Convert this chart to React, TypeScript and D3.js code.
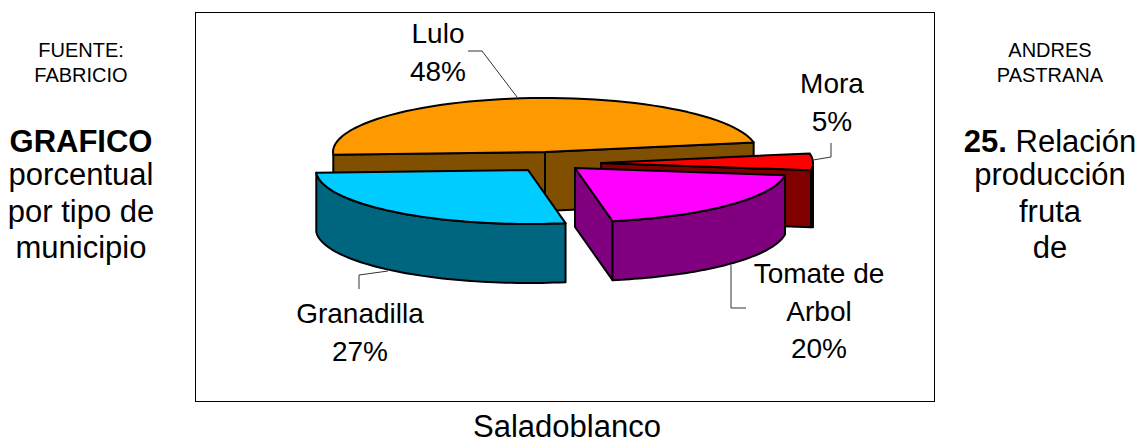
import React from "react";
import * as d3 from "d3";

const categories = ["Lulo", "Mora", "Tomate de Arbol", "Granadilla"];
const shares = [48, 5, 20, 27];
const topColors = ["#FF9900", "#FF0000", "#FF00FF", "#00CCFF"];
const sideColors = ["#804F00", "#800000", "#800080", "#006680"];
const chartTitle = "Saladoblanco";

const W = 1138, H = 439;
const cx = 545, cy = 152, rx = 212, ry = 54, depth = 59, moraDepth = 57;
const startDeg = -93;
const offsets: [number, number][] = [[0, 0], [56, 11], [30, 16], [-17, 18]];

const pie = d3.pie<number>().sort(null)
  .startAngle((startDeg * Math.PI) / 180)
  .endAngle((startDeg * Math.PI) / 180 + 2 * Math.PI);
const arcs = pie(shares);
const lineGen = d3.line<[number, number]>().x(d => d[0]).y(d => d[1]);

function arcPts(i: number, dy = 0, rev = false): [number, number][] {
  const a = arcs[i];
  const [ox, oy] = offsets[i];
  const ang = d3.range(0, 61).map(k => a.startAngle + ((a.endAngle - a.startAngle) * k) / 60);
  const pts = ang.map(t => [cx + ox + rx * Math.sin(t), cy + oy + dy - ry * Math.cos(t)] as [number, number]);
  return rev ? pts.reverse() : pts;
}
const apex = (i: number, dy = 0): [number, number] => [cx + offsets[i][0], cy + offsets[i][1] + dy];
const closed = (pts: [number, number][]) => lineGen(pts) + "Z";

const sw = 2;
function Slice({ i }: { i: number }) {
  const top = arcPts(i);
  const first = top[0], last = top[top.length - 1];
  const walls: [number, number][][] = [];
  if (i === 0) {
    walls.push([first, apex(0), apex(0, depth), [first[0], first[1] + depth]]);
    walls.push([apex(0), last, [last[0], last[1] + depth], apex(0, depth)]);
  }
  if (i === 1) {
    const maxX = d3.max(top, p => p[0])!;
    const bottom = last[1] + moraDepth;
    walls.push([apex(1), last, [last[0], bottom], apex(1, moraDepth)]);
    walls.push([last, [maxX, last[1] - 4], [maxX, bottom], [last[0], bottom]]);
  }
  if (i === 2) {
    walls.push([apex(2), last, [last[0], last[1] + depth], apex(2, depth)]);
    walls.push([...top, ...arcPts(2, depth, true)]);
  }
  if (i === 3) {
    walls.push([...top, ...arcPts(3, depth, true)]);
  }
  return (
    <g stroke="#000" strokeWidth={sw} strokeLinejoin="round">
      {walls.map((w, k) => <path key={k} d={closed(w)} fill={sideColors[i]} />)}
      <path d={closed([apex(i), ...top])} fill={topColors[i]} />
    </g>
  );
}

const font = "'Liberation Sans', Arial, sans-serif";
const Line = ({ x, y, s, b, t }: { x: number; y: number; s: number; b?: boolean; t: React.ReactNode }) => (
  <text x={x} y={y} fontSize={s} fontWeight={b ? "bold" : "normal"} textAnchor="middle" fill="#000" fontFamily={font}>{t}</text>
);

const leaders = [
  [[517, 97], [482, 51], [468, 51]],
  [[813, 160], [831, 157], [831, 143]],
  [[731, 265], [731, 308], [746, 308]],
  [[388, 271], [359, 275], [359, 289]],
] as [number, number][][];

const labelPos: [number, number, string[]][] = [
  [438, 43, [categories[0], shares[0] + "%"]],
  [832, 93, [categories[1], shares[1] + "%"]],
  [819, 283, ["Tomate de", "Arbol", shares[2] + "%"]],
  [360, 323, [categories[3], shares[3] + "%"]],
];

export default function App() {
  return (
    <svg width={W} height={H} style={{ position: "absolute", left: 0, top: 0, background: "#fff" }}>
      <rect x={195.5} y={12.5} width={739} height={389} fill="#fff" stroke="#000" strokeWidth={1} />
      {[0, 1, 2, 3].map(i => <Slice key={i} i={i} />)}
      {leaders.map((l, i) => <path key={i} d={lineGen(l)!} fill="none" stroke="#333" strokeWidth={1} />)}
      {labelPos.map(([x, y, ls], i) =>
        ls.map((t, k) => <Line key={i + "-" + k} x={x} y={y + k * 37.5} s={28} t={t} />))}
      <Line x={567} y={437} s={31} t={chartTitle} />

      <Line x={81} y={57} s={20} t="FUENTE:" />
      <Line x={81} y={82} s={20} t="FABRICIO" />
      <Line x={81} y={152} s={31} b t="GRAFICO" />
      <Line x={81} y={185} s={31} t="porcentual" />
      <Line x={81} y={222} s={31} t="por tipo de" />
      <Line x={81} y={258} s={31} t="municipio" />

      <Line x={1050} y={57} s={20} t="ANDRES" />
      <Line x={1050} y={82} s={20} t="PASTRANA" />
      <Line x={1050} y={152} s={31} t={<><tspan fontWeight="bold">25.</tspan> Relación</>} />
      <Line x={1050} y={185} s={31} t="producción" />
      <Line x={1050} y={222} s={31} t="fruta" />
      <Line x={1050} y={258} s={31} t="de" />
    </svg>
  );
}
